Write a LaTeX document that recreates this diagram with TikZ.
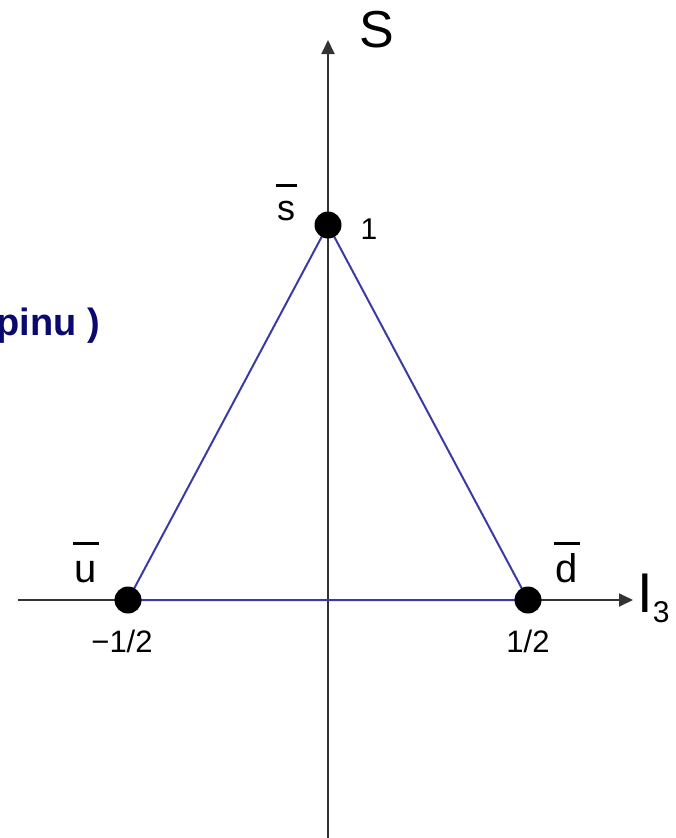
\documentclass[tikz,border=0pt]{standalone}
\usepackage{fontspec}
\setmainfont{Liberation Sans}
\usetikzlibrary{arrows.meta}
\definecolor{tricol}{HTML}{3B3BA3}
\definecolor{axiscol}{HTML}{333333}
\definecolor{navytxt}{HTML}{0A0A6E}
\newcommand\qbar[1]{\setbox0\hbox{#1}\rlap{\kern-1.5pt\raisebox{0.93em}{\rule{\dimexpr\wd0+3pt\relax}{2.8pt}}}\box0}
\newcommand\fsz[1]{\fontsize{#1}{#1}\selectfont}
\begin{document}
\begin{tikzpicture}[x=1pt,y=-1pt,
  dot/.style={circle,fill=black,inner sep=0pt,minimum size=27pt},
  lbl/.style={inner sep=0pt,anchor=base},
  axisline/.style={draw=axiscol,line width=1.8pt,-{Triangle[length=14pt,width=13pt]}},
  triline/.style={draw=tricol,line width=2pt,line join=round}]
\useasboundingbox (0,0) rectangle (675,838);
\clip (0,0) rectangle (675,838);
\coordinate (ybot) at (328,840);
\coordinate (ytop) at (328,40);
\coordinate (xl) at (18,600);
\coordinate (xr) at (633,600);
\coordinate (ps) at (328,225);
\coordinate (pu) at (128,600);
\coordinate (pd) at (528,600);
\draw[axisline] (ybot) -- (ytop);
\draw[axisline] (xl) -- (xr);
\draw[triline] (ps) -- (pu) -- (pd) -- cycle;
\node[dot] (s) at (ps) {};
\node[dot] (u) at (pu) {};
\node[dot] (d) at (pd) {};
\node[lbl] (Slab) at (377,47) {\fsz{52}S};
\node[lbl,anchor=base west] (Ilab) at (637,612) {\fsz{56}I\raisebox{-10pt}{\fsz{30}3}};
\node[lbl] (sbar) at (286,220) {\fsz{36}\qbar{s}};
\node[lbl] (ubar) at (86,582) {\fsz{40}\qbar{u}};
\node[lbl] (dbar) at (567,582) {\fsz{40}\qbar{d}};
\node[lbl] (one) at (369,239) {\fsz{30}1};
\node[lbl] (mhalf) at (122,652) {\fsz{31}−1/2};
\node[lbl] (half) at (528,652) {\fsz{31}1/2};
\node[inner sep=0pt,anchor=base east,text=navytxt] (note) at (100,335) {\fsz{38}\bfseries pinu )};
\end{tikzpicture}
\end{document}
